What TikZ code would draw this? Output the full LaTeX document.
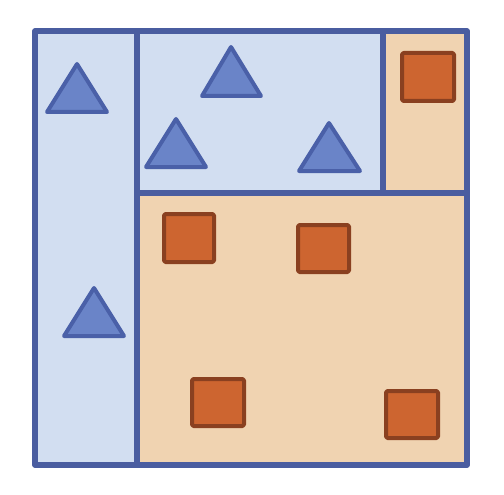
\documentclass[tikz,border=0pt]{standalone}
\definecolor{lblue}{HTML}{D2DEF1}
\definecolor{bline}{HTML}{4A5DA0}
\definecolor{trifill}{HTML}{6A84C8}
\definecolor{tristroke}{HTML}{4A60A8}
\definecolor{lorange}{HTML}{F0D3B1}
\definecolor{sqfill}{HTML}{CD6530}
\definecolor{sqstroke}{HTML}{8A4020}
\tikzset{
  border/.style={draw=bline, line width=5.5pt, line join=round, line cap=round},
  tri/.style={fill=trifill, draw=tristroke, line width=4pt, line join=round},
  sq/.style={fill=sqfill, draw=sqstroke, line width=4pt, line join=round, rounded corners=1.5pt}
}
\begin{document}
\begin{tikzpicture}[x=1pt,y=-1pt]
\useasboundingbox (0,0) rectangle (504,495);
\fill[white] (0,0) rectangle (504,495);
% regions
\fill[lblue] (35,31) rectangle (137,465);
\fill[lblue] (137,31) rectangle (383,193);
\fill[lorange] (383,31) rectangle (467,193);
\fill[lorange] (137,193) rectangle (467,465);
% grid lines
\coordinate (tl) at (35,31);
\coordinate (br) at (467,465);
\coordinate (v1t) at (137,31);
\coordinate (v1b) at (137,465);
\coordinate (hL) at (137,193);
\coordinate (hR) at (467,193);
\coordinate (v2t) at (383,31);
\coordinate (v2b) at (383,193);
% triangles
\draw[tri] (77,64) -- (47,112) -- (107,112) -- cycle;
\draw[tri] (231,47) -- (202,96) -- (261,96) -- cycle;
\draw[tri] (176,119) -- (146,167) -- (206,167) -- cycle;
\draw[tri] (329,123) -- (299,171) -- (360,171) -- cycle;
\draw[tri] (94,288) -- (64,336) -- (124,336) -- cycle;
% squares
\draw[sq] (402,53) rectangle (454,101);
\draw[sq] (164,214) rectangle (214,262);
\draw[sq] (298,225) rectangle (349,272);
\draw[sq] (192,379) rectangle (244,426);
\draw[sq] (386,391) rectangle (438,438);
% borders on top
\draw[border] (tl) rectangle (br);
\draw[border] (v1t) -- (v1b);
\draw[border] (hL) -- (hR);
\draw[border] (v2t) -- (v2b);
\end{tikzpicture}
\end{document}
